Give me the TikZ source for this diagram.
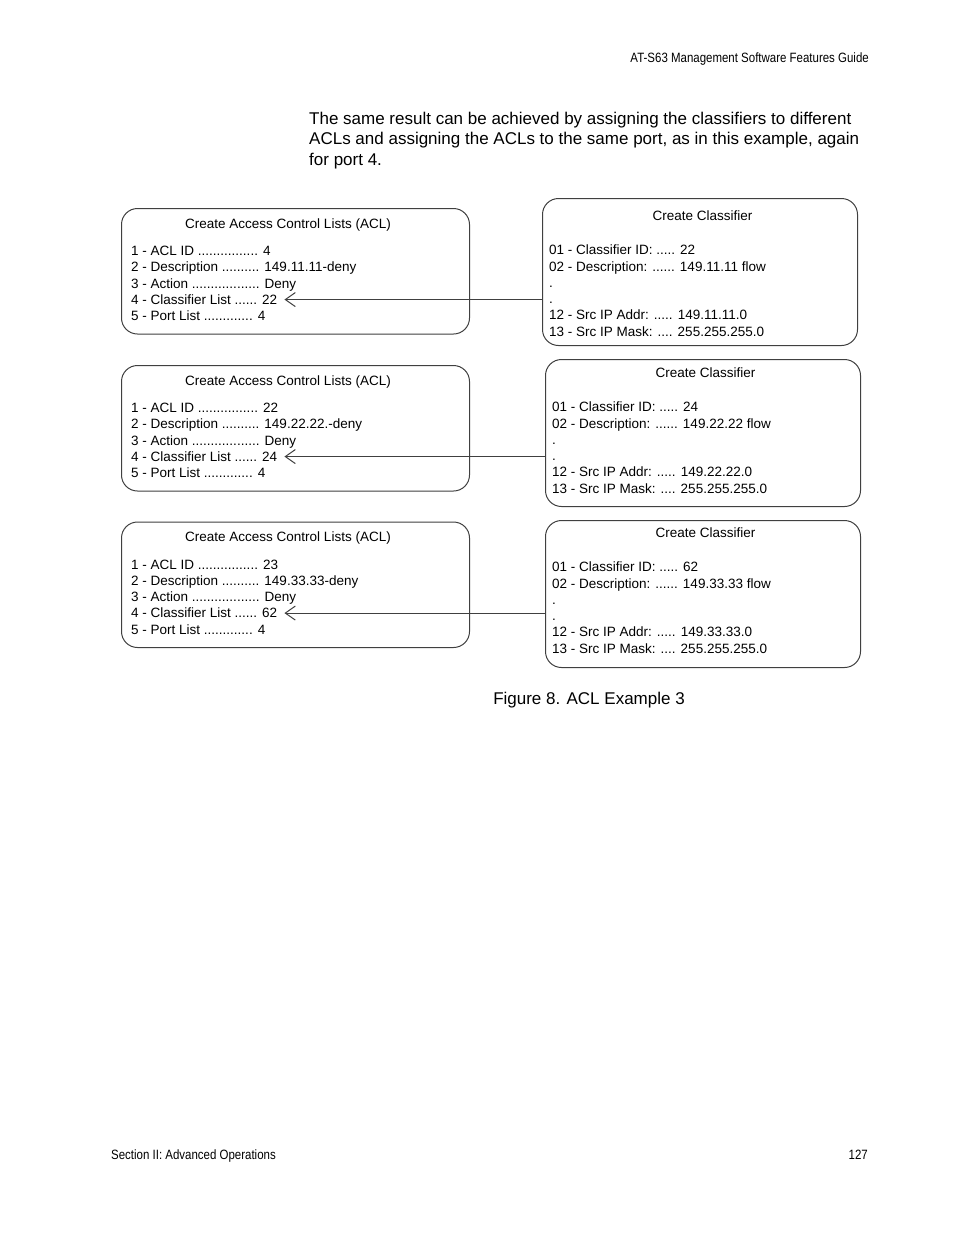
\documentclass[tikz,border=0pt]{standalone}
\usepackage{fontspec}
\setmainfont{Liberation Sans}
\newfontfamily\narrowsf[FakeStretch=0.85]{Liberation Sans}
\usetikzlibrary{arrows.meta}
\ExplSyntaxOn
\cs_new:Npn \dotrun #1 { \prg_replicate:nn {#1} {.} }
\ExplSyntaxOff

\begin{document}
\begin{tikzpicture}[x=1pt,y=-1pt, line join=round, line cap=round,
  >={Straight Barb[length=10pt,width=14pt]},
  listbox/.style={draw=black!75, line width=1pt, rounded corners=16pt, inner sep=0pt},
  boxline/.style={anchor=base west, inner sep=0pt, font=\fontsize{13.5}{16}\selectfont},
  boxtitle/.style={anchor=base, inner sep=0pt, font=\fontsize{13.5}{16}\selectfont},
  pagetext/.style={inner sep=0pt, font=\narrowsf\fontsize{13.5}{16}\selectfont},
  link/.style={draw=black!75, line width=1pt}]
	\fill[white] (0,0) rectangle (954,1235);
	\useasboundingbox (0,0) rectangle (954,1235);
	
	\node[pagetext, anchor=base east] (head) at (869,62) {AT-S63 Management Software Features Guide};
	\node[anchor=north west, align=left, inner sep=0pt, font=\fontsize{17}{20.7}\selectfont] (intro) at (309,111.6)
	{The same result can be achieved by assigning the classifiers to different\\
	 ACLs and assigning the ACLs to the same port, as in this example, again\\
	 for port 4.};
	
	% one row: ACL box on the left, classifier box on the right
	\foreach \r/\ya/\xc/\yc/\yt/\id/\desc/\cl/\net in {
	  1/208/542/198/220.7/4/149.11.11-deny/22/11,
	  2/365/545/359/377.7/22/149.22.22.-deny/24/22,
	  3/521.5/545/520/537.7/23/149.33.33-deny/62/33}{
		\node[listbox, minimum width=348pt, minimum height=125.5pt, anchor=north west] (acl\r) at (121,\ya) {};
		\node[boxtitle] (acltitle\r) at (288,{\ya+20}) {Create Access Control Lists (ACL)};
		\foreach \t [count=\k] in {1 - ACL ID \dotrun{16} \id, 2 - Description \dotrun{10} \desc,
		  3 - Action \dotrun{18} Deny, 4 - Classifier List \dotrun{6} \cl, 5 - Port List \dotrun{13} 4}
			\node[boxline] (acl\r-\k) at (131,{\ya+47.5+16.3*(\k-1)}) {\t};
		
		\node[listbox, minimum width=315pt, minimum height=147pt, anchor=north west] (cls\r) at (\xc,\yc) {};
		\node[boxtitle] (clstitle\r) at ({\xc+160.5},\yt) {Create Classifier};
		\foreach \t [count=\k] in {01 - Classifier ID: \dotrun{5} \cl, 02 - Description: \dotrun{6} 149.\net.\net\ flow,
		  {.}, {.}, 12 - Src IP Addr: \dotrun{5} 149.\net.\net.0, 13 - Src IP Mask: \dotrun{4} 255.255.255.0}
			\node[boxline] (cls\r-\k) at ({\xc+7},{\yt+34+16.3*(\k-1)}) {\t};
		
		\draw[link,->] (cls\r.west |- acl\r-4.east) -- ([xshift=7pt]acl\r-4.east);
	}
	
	\node[anchor=base, inner sep=0pt, font=\fontsize{17}{20}\selectfont] (caption) at (589,704) {Figure 8. ACL Example 3};
	\node[pagetext, anchor=base west] (foot) at (111,1159) {Section II: Advanced Operations};
	\node[pagetext, anchor=base east] (pagenum) at (868,1159) {127};
\end{tikzpicture}
\end{document}
